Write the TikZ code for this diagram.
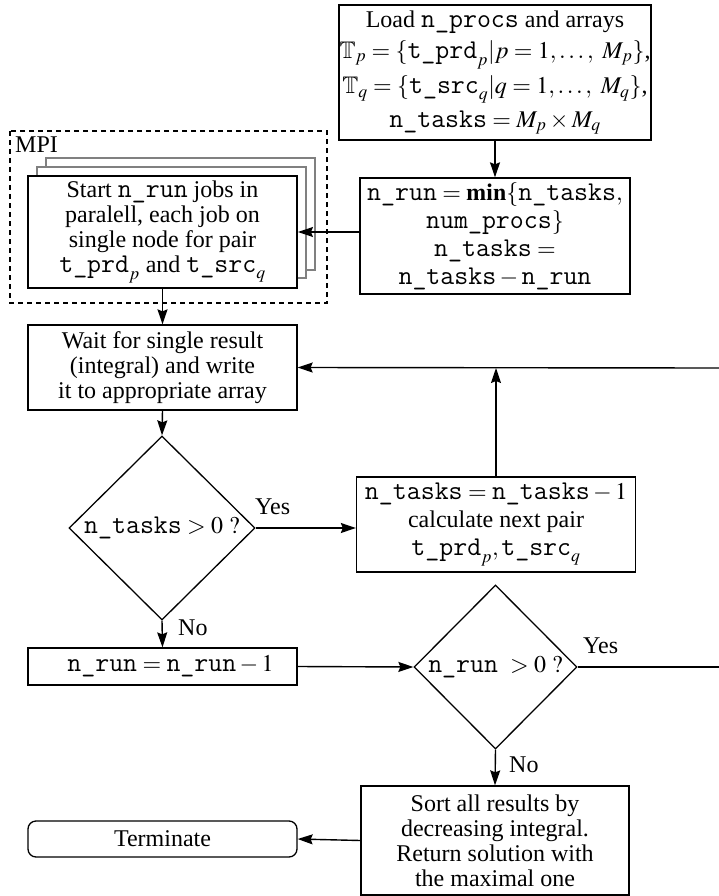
\documentclass[tikz,border=0pt]{standalone}
\usepackage{mathptmx}
\usepackage{amssymb}
\usepackage{fontspec}
\setmainfont{Liberation Serif}
\setmonofont{Latin Modern Mono}[Scale=1.13]
\usetikzlibrary{shapes.geometric,arrows.meta}
\begin{document}
\begin{tikzpicture}[x=1pt,y=-1pt,
  txt/.style={font=\fontsize{24}{25}\selectfont, align=center, inner sep=0pt},
  box/.style={txt, draw, line width=1.3pt, fill=white},
  thickbox/.style={box, line width=1.9pt},
  decision/.style={txt, draw, line width=1.3pt, diamond, aspect=1},
  conn/.style={line width=1.4pt, -{Stealth[length=15pt,width=10pt,inset=2pt]}},
  plain/.style={line width=1.4pt},
  lbl/.style={font=\fontsize{24}{25}\selectfont, inner sep=0pt}]
\useasboundingbox (0,0) rectangle (719,896);

% MPI group
\draw[line width=1.3pt, dash pattern=on 5pt off 4pt] (10,131) rectangle (327,303);
\node[lbl, anchor=base west] (mpi) at (15,153) {MPI};
\draw[line width=1.3pt, draw=gray, fill=white] (46,158) rectangle (315,270);
\draw[line width=1.3pt, draw=gray, fill=white] (37,167) rectangle (306,278);

\node[thickbox, minimum width=312pt, minimum height=135pt] (load) at (495,72.5)
 {Load \texttt{n\_procs} and arrays\\[6pt]
  $\mathbb{T}_p = \{\texttt{t\_prd}_p | p = 1,\ldots,\ M_p\}$,\\[6pt]
  $\mathbb{T}_q = \{\texttt{t\_src}_q | q = 1,\ldots,\ M_q\}$,\\[6pt]
  $\texttt{n\_tasks} = M_p \times M_q$};

\node[box, minimum width=270pt, minimum height=116pt] (comp) at (495,236)
 {$\texttt{n\_run} = \mathbf{min}\{\texttt{n\_tasks},$\\[3pt]
  $\texttt{num\_procs}\}$\\[3pt]
  $\texttt{n\_tasks} =$\\[3pt]
  $\texttt{n\_tasks} - \texttt{n\_run}$};

\node[thickbox, minimum width=269pt, minimum height=112pt] (start) at (162.5,232)
 {Start \texttt{n\_run} jobs in\\
  paralell, each job on\\
  single node for pair\\
  $\texttt{t\_prd}_p$ and $\texttt{t\_src}_q$};

\node[box, minimum width=269pt, minimum height=85pt] (wait) at (162.5,367.5)
 {Wait for single result\\
  (integral) and write\\
  it to appropriate array};

\node[decision, minimum width=186pt, minimum height=184pt] (d1) at (162,528)
 {$\texttt{n\_tasks} > 0\ ?$};

\node[box, minimum width=279pt, minimum height=95pt] (next) at (496,524.5)
 {$\texttt{n\_tasks} = \texttt{n\_tasks} - 1$\\[3pt]
  calculate next pair\\[3pt]
  $\texttt{t\_prd}_p, \texttt{t\_src}_q$};

\node[box, minimum width=269pt, minimum height=37pt] (nrun) at (162.5,666.5)
 {\hspace*{16pt}$\texttt{n\_run} = \texttt{n\_run} - 1$};

\node[decision, minimum width=163pt, minimum height=164pt] (d2) at (495.5,667)
 {\texttt{n\_run}\ \ $> 0\ ?$};

\node[box, minimum width=268pt, minimum height=109pt] (sort) at (495,840.5)
 {Sort all results by\\
  decreasing integral.\\
  Return solution with\\
  the maximal one};

\node[box, rounded corners=8pt, minimum width=269pt, minimum height=36pt] (term) at (162.5,839)
 {Terminate};

\coordinate (rtop) at (719,368);
\coordinate (rbot) at (719,667);

% connectors
\draw[conn] (load.south) -- (comp.north);
\draw[conn] (comp.west |- start.east) -- (start.east);
\draw[conn] (start.south) -- (wait.north);
\draw[conn] (rtop) -- (wait.east);
\draw[conn] (next.north) -- (next.north |- rtop);
\draw[conn] (wait.south) -- (d1.north);
\draw[conn] (d1.east) -- (next.west |- d1.east);
\draw[conn] (d1.south) -- (nrun.north);
\draw[conn] (nrun.east) -- (d2.west);
\draw[plain] (d2.east) -- (rbot);
\draw[conn] (d2.south) -- (sort.north);
\draw[conn] (sort.west) -- (term.east);

% labels
\node[lbl, anchor=west] (y1) at (255,507) {Yes};
\node[lbl, anchor=west] (n1) at (178,628) {No};
\node[lbl, anchor=west] (y2) at (583,646) {Yes};
\node[lbl, anchor=west] (n2) at (509,765) {No};
\end{tikzpicture}
\end{document}
